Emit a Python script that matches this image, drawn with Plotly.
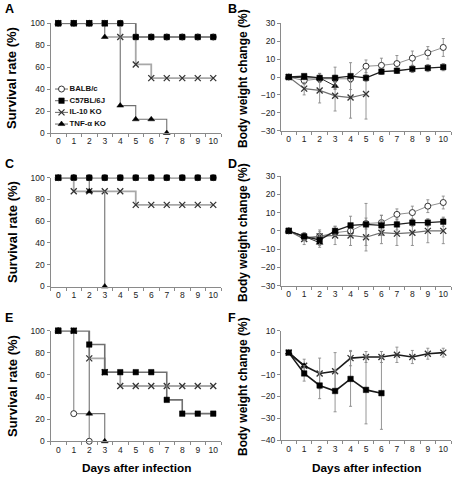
import plotly.graph_objects as go

days = list(range(11))
day_labels = [str(d) for d in days]
groups = ["BALB/c", "C57BL/6J", "IL-10 KO", "TNF-α KO"]

# Survival (%) panels A, C, E
surv_A = {
    "BALB/c":   [100, 100, 100, 100, 100, 87.5, 87.5, 87.5, 87.5, 87.5, 87.5],
    "C57BL/6J": [100, 100, 100, 100, 100, 87.5, 87.5, 87.5, 87.5, 87.5, 87.5],
    "IL-10 KO": [100, 100, 100, 100, 87.5, 62.5, 50, 50, 50, 50, 50],
    "TNF-α KO": [100, 100, 100, 87.5, 25, 12.5, 12.5, 0],
}
surv_C = {
    "BALB/c":   [100, 100, 100, 100, 100, 100, 100, 100, 100, 100, 100],
    "C57BL/6J": [100, 100, 100, 100, 100, 100, 100, 100, 100, 100, 100],
    "IL-10 KO": [100, 87.5, 87.5, 87.5, 87.5, 75, 75, 75, 75, 75, 75],
    "TNF-α KO": [100, 100, 87.5, 0],
}
surv_E = {
    "BALB/c":   [100, 25, 0],
    "C57BL/6J": [100, 100, 87.5, 62.5, 62.5, 62.5, 62.5, 37.5, 25, 25, 25],
    "IL-10 KO": [100, 100, 75, 62.5, 50, 50, 50, 50, 50, 50, 50],
    "TNF-α KO": [100, 100, 25, 0],
}

# Body weight change (%) panels B, D, F : mean and SD
bw_B = {
    "BALB/c":   ([0, -2, -1, -1, -1, 6, 6.5, 7.5, 10.5, 13.5, 16.5],
                 [0, 2, 2, 2, 2, 3.5, 4, 4.5, 4, 3.5, 5]),
    "C57BL/6J": ([0, 0.5, -0.5, -0.5, 0.5, -0.5, 3, 3.5, 4.5, 5, 5.5],
                 [0, 1, 2.5, 6, 7.5, 2, 1.5, 1.5, 2, 2, 2]),
    "IL-10 KO": ([0, -6.5, -7.5, -10.5, -11.5, -9.5],
                 [0, 3.5, 7, 8.5, 11.5, 14]),
    "TNF-α KO": ([0, -0.5, -0.5, -5],
                 [0, 1, 2.5, 2]),
}
bw_D = {
    "BALB/c":   ([0, -3.5, -3, -1, 0, 4, 4.5, 9, 10, 13.5, 15.5],
                 [0, 2, 2.5, 2, 3, 3, 4, 3, 3.5, 3.5, 3.5]),
    "C57BL/6J": ([0, -3, -5, 0, 3, 3.5, 3, 3.5, 4.5, 4.5, 5],
                 [0, 2, 3, 2.5, 5, 11.5, 5.5, 3, 2, 2, 2.5]),
    "IL-10 KO": ([0, -4.5, -3, -2.5, -2.5, -3.5, -1, -1.5, -1, 0, 0],
                 [0, 3, 3.5, 5, 5.5, 7.5, 6, 6.5, 7, 6.5, 7]),
    "TNF-α KO": ([0, -3, -6.5],
                 [0, 2, 2.5]),
}
bw_F = {
    "C57BL/6J": ([0, -9.5, -15, -17.5, -12, -17, -18.5],
                 [0, 3.5, 6, 9.5, 12.5, 15.5, 16.5]),
    "IL-10 KO": ([0, -6, -9.5, -8.5, -2.5, -2, -2, -1, -2, -0.5, 0],
                 [0, 3, 7, 8.5, 3.5, 2.5, 2.5, 3.5, 3, 2.5, 2]),
    "TNF-α KO": ([0, -6],
                 [0, 1]),
}

W, H = 452, 477
def px_x(a, b):
    return [a / W, b / W]
def px_y(top, bottom):
    return [1 - bottom / H, 1 - top / H]

xd_left = px_x(50.5, 221)
xd_right = px_x(281, 451)
yd = {
    "A": px_y(23.3, 133), "B": px_y(23.3, 130.7),
    "C": px_y(177.7, 286.5), "D": px_y(176, 285.7),
    "E": px_y(330.7, 441.3), "F": px_y(330.7, 440.3),
}

marker_style = {
    "BALB/c":   dict(symbol="circle", size=6, color="white", line=dict(color="#333", width=1)),
    "C57BL/6J": dict(symbol="square", size=5.5, color="black", line=dict(color="black", width=0.5)),
    "IL-10 KO": dict(symbol="x-thin", size=6, color="#333", line=dict(color="#333", width=1.3)),
    "TNF-α KO": dict(symbol="triangle-up", size=6, color="black", line=dict(color="black", width=0.5)),
}
surv_line = {
    "BALB/c":   dict(color="#909090", width=1.2),
    "C57BL/6J": dict(color="#707070", width=1.6),
    "IL-10 KO": dict(color="#a8a8a8", width=1.8),
    "TNF-α KO": dict(color="#707070", width=1.1),
}
bw_line = {
    "BALB/c":   dict(color="#909090", width=1),
    "C57BL/6J": dict(color="#202020", width=1.3),
    "IL-10 KO": dict(color="#707070", width=1.2),
    "TNF-α KO": dict(color="#303030", width=1),
}

fig = go.Figure()
draw_order = ["BALB/c", "IL-10 KO", "TNF-α KO", "C57BL/6J"]

panels_surv = [("A", surv_A, "x", "y"), ("C", surv_C, "x3", "y3"), ("E", surv_E, "x5", "y5")]
for name, data, xa, ya in panels_surv:
    for g in draw_order:
        vals = data[g]
        fig.add_trace(go.Scatter(
            x=days[:len(vals)], y=vals, mode="lines+markers", name=g,
            line=dict(shape="hv", **surv_line[g]), marker=marker_style[g],
            xaxis=xa, yaxis=ya, cliponaxis=False, showlegend=False,
        ))

panels_bw = [("B", bw_B, "x2", "y2"), ("D", bw_D, "x4", "y4"), ("F", bw_F, "x6", "y6")]
for name, data, xa, ya in panels_bw:
    for g in draw_order:
        if g not in data:
            continue
        mean, sd = data[g]
        fig.add_trace(go.Scatter(
            x=days[:len(mean)], y=mean, mode="lines+markers", name=g,
            line=bw_line[g] if name != "F" else dict(color="#1a1a1a", width=1.6),
            marker=marker_style[g],
            error_y=dict(type="data", array=sd, color="#8a8a8a", thickness=0.9, width=1.5),
            xaxis=xa, yaxis=ya, cliponaxis=False, showlegend=False,
        ))

# compact legend inside panel A (own small axis so rows are tightly packed)
for i, g in enumerate(groups):
    fig.add_trace(go.Scatter(
        x=[0, 6.5, 13], y=[i, i, i], mode="lines", line=dict(color="#666", width=1),
        xaxis="x7", yaxis="y7", showlegend=False, hoverinfo="skip", cliponaxis=False))
    fig.add_trace(go.Scatter(
        x=[6.5], y=[i], mode="markers", marker=marker_style[g],
        xaxis="x7", yaxis="y7", showlegend=False, hoverinfo="skip", cliponaxis=False))
    fig.add_trace(go.Scatter(
        x=[14.5], y=[i], mode="text", text=[g], textposition="middle right",
        textfont=dict(family="Liberation Sans, Arial", size=7.8, color="#111", weight="bold"),
        xaxis="x7", yaxis="y7", showlegend=False, hoverinfo="skip", cliponaxis=False))

tickfont = dict(family="Liberation Sans, Arial", size=8.5, color="#222")
def xaxis(domain, anchor):
    return dict(domain=domain, anchor=anchor, range=[-0.5, 10.5], automargin=False,
                tickmode="array", tickvals=days, ticktext=day_labels, ticks="",
                showline=True, linecolor="#8a8a8a", linewidth=1,
                showgrid=False, zeroline=False, tickfont=tickfont,
                minor=dict(tickmode="array", tickvals=[d - 0.5 for d in range(12)],
                           ticks="outside", ticklen=3, tickcolor="#8a8a8a", tickwidth=1))
def yaxis(domain, anchor, rng, dtick):
    return dict(domain=domain, anchor=anchor, range=rng, dtick=dtick, tick0=rng[0],
                automargin=False, ticks="outside", ticklen=3, tickcolor="#8a8a8a",
                showline=True, linecolor="#8a8a8a", linewidth=1,
                showgrid=False, zeroline=False, tickfont=tickfont)
hidden = dict(visible=False, showgrid=False, zeroline=False, fixedrange=True, automargin=False)

fig.update_layout(
    template="none",
    width=W, height=H, autosize=False, margin=dict(l=0, r=0, t=0, b=0, pad=0),
    paper_bgcolor="white", plot_bgcolor="rgba(0,0,0,0)",
    xaxis=xaxis(xd_left, "y"), yaxis=yaxis(yd["A"], "x", [0, 100], 20),
    xaxis2=xaxis(xd_right, "y2"), yaxis2=yaxis(yd["B"], "x2", [-30, 30], 10),
    xaxis3=xaxis(xd_left, "y3"), yaxis3=yaxis(yd["C"], "x3", [0, 100], 20),
    xaxis4=xaxis(xd_right, "y4"), yaxis4=yaxis(yd["D"], "x4", [-30, 30], 10),
    xaxis5=xaxis(xd_left, "y5"), yaxis5=yaxis(yd["E"], "x5", [0, 100], 20),
    xaxis6=xaxis(xd_right, "y6"), yaxis6=yaxis(yd["F"], "x6", [-40, 10], 10),
    xaxis7=dict(domain=px_x(55, 120), range=[0, 65], anchor="y7", **hidden),
    yaxis7=dict(domain=px_y(83.2, 129.9), range=[3.5, -0.5], anchor="x7", **hidden),
    showlegend=False,
)

bold = dict(family="Liberation Sans, Arial", color="black", weight="bold")
letters = [("A", 3, 9), ("B", 226, 9), ("C", 3, 164), ("D", 226, 164), ("E", 3, 318), ("F", 226, 318)]
for t, x, y in letters:
    fig.add_annotation(text=t, x=x / W, y=1 - y / H, xref="paper", yref="paper",
                       xanchor="left", yanchor="middle", showarrow=False,
                       font=dict(size=12.5, **bold))
for ycen in [78, 232, 386]:
    fig.add_annotation(text="Survival rate (%)", x=12 / W, y=1 - ycen / H, xref="paper", yref="paper",
                       xanchor="center", yanchor="middle",
                       textangle=-90, showarrow=False, font=dict(size=13, **bold))
for ycen in [79, 233, 387]:
    fig.add_annotation(text="Body weight change (%)", x=243 / W, y=1 - ycen / H, xref="paper", yref="paper",
                       xanchor="center", yanchor="middle",
                       textangle=-90, showarrow=False, font=dict(size=12, **bold))
for xcen in [136, 366]:
    fig.add_annotation(text="Days after infection", x=xcen / W, y=1 - 468 / H, xref="paper", yref="paper",
                       xanchor="center", yanchor="middle",
                       showarrow=False, font=dict(size=11.8, **bold))

fig.write_html("out.html", config={"displayModeBar": False},
               post_script="document.body.style.margin='0';document.body.style.overflow='hidden';")
